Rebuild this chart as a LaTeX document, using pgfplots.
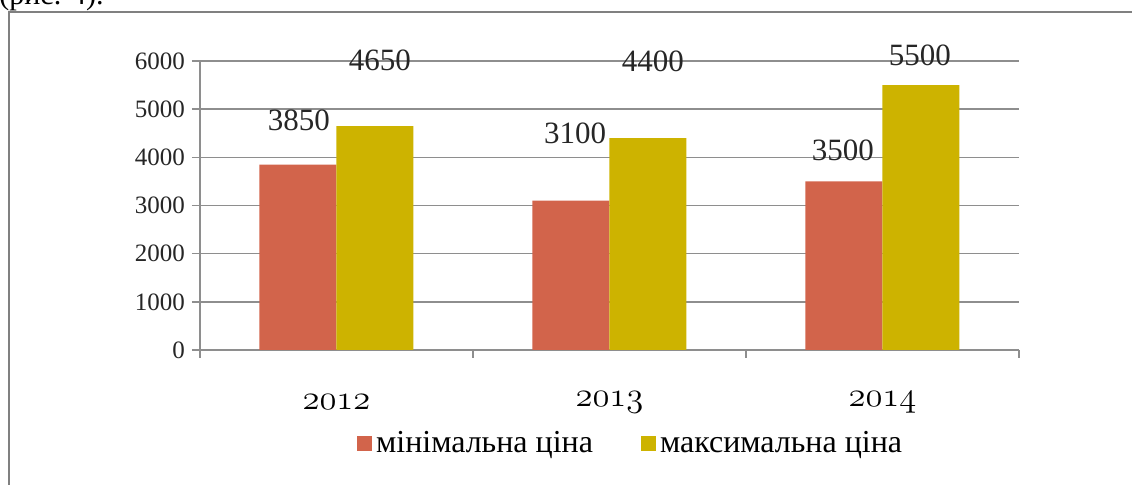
\documentclass[border=0pt]{standalone}
\usepackage{fontspec}
\setmainfont{Liberation Serif}
\usepackage{pgfplots}
\pgfplotsset{compat=1.18}
\definecolor{minc}{HTML}{D2644B}
\definecolor{maxc}{HTML}{CDB300}
\definecolor{gridc}{HTML}{8E8E8E}
% old-style figures for the year labels
\newcommand\osf[1]{{\usefont{OML}{cmm}{m}{it}#1}}

\begin{document}
\begin{tikzpicture}
% page = 1132 x 485 px at 0.5pt per px
\useasboundingbox (0,0) rectangle (566pt,-242.5pt);
\clip (0,0) rectangle (566pt,-242.5pt);

\begin{scope}[x=0.5pt,y=-0.5pt]
  \draw[line width=1pt, gray] (9,520) -- (9,12) -- (1160,12);
  \node[anchor=base west, inner sep=0, font=\fontsize{15}{18}\selectfont] at (-1,5) {(рис. 4).};
\end{scope}

\begin{axis}[
    at={(100pt,-175pt)}, anchor=south west,
    scale only axis, width=409.5pt, height=144.5pt,
    ybar=0pt, bar width=38.5pt,
    xmin=-0.5, xmax=2.5, ymin=0, ymax=6000,
    axis lines*=left,
    axis line style={gridc, line width=0.75pt},
    ymajorgrids, grid style={gridc, line width=0.75pt},
    tick align=outside, major tick length=4pt,
    tick style={gridc, line width=0.75pt},
    xtick={0,1,2}, xticklabels={\osf{2012},\osf{2013},\osf{2014}},
    major x tick style={draw=none},
    extra x ticks={-0.5,0.5,1.5,2.5}, extra x tick labels={},
    extra x tick style={major x tick style={draw=gridc}, grid=none},
    ytick={0,1000,...,6000},
    /pgf/number format/.cd, 1000 sep={}, assume math mode=true, /pgfplots/.cd,
    yticklabel style={font=\fontsize{12.5}{14}\selectfont, text=black!85},
    xticklabel style={font=\fontsize{17.28}{20}\selectfont, text=black, anchor=center, yshift=-22pt},
    clip=false,
    legend style={at={(0.527,-0.322)}, anchor=center, draw=none, fill=none,
        legend columns=2, font=\fontsize{16}{18}\selectfont,
        /tikz/every even column/.append style={column sep=22pt}},
]
\addplot[fill=minc, draw=none,
    legend image code/.code={\fill[minc] (0pt,-3.75pt) rectangle (7.5pt,3.75pt);}]
    coordinates {(0,3850) (1,3100) (2,3500)};
\addlegendentry{мінімальна ціна}
\addplot[fill=maxc, draw=none,
    legend image code/.code={\fill[maxc] (0pt,-3.75pt) rectangle (7.5pt,3.75pt);}]
    coordinates {(0,4650) (1,4400) (2,5500)};
\addlegendentry{максимальна ціна}

\begin{scope}[every node/.style={font=\fontsize{15.5}{18}\selectfont, text=black!85}]
\node at (axis cs:-0.138,4775) {3850};
\node at (axis cs:0.159,6020) {4650};
\node at (axis cs:0.874,4505) {3100};
\node at (axis cs:1.159,6000) {4400};
\node at (axis cs:1.855,4150) {3500};
\node at (axis cs:2.137,6125) {5500};
\end{scope}
\end{axis}
\end{tikzpicture}
\end{document}
